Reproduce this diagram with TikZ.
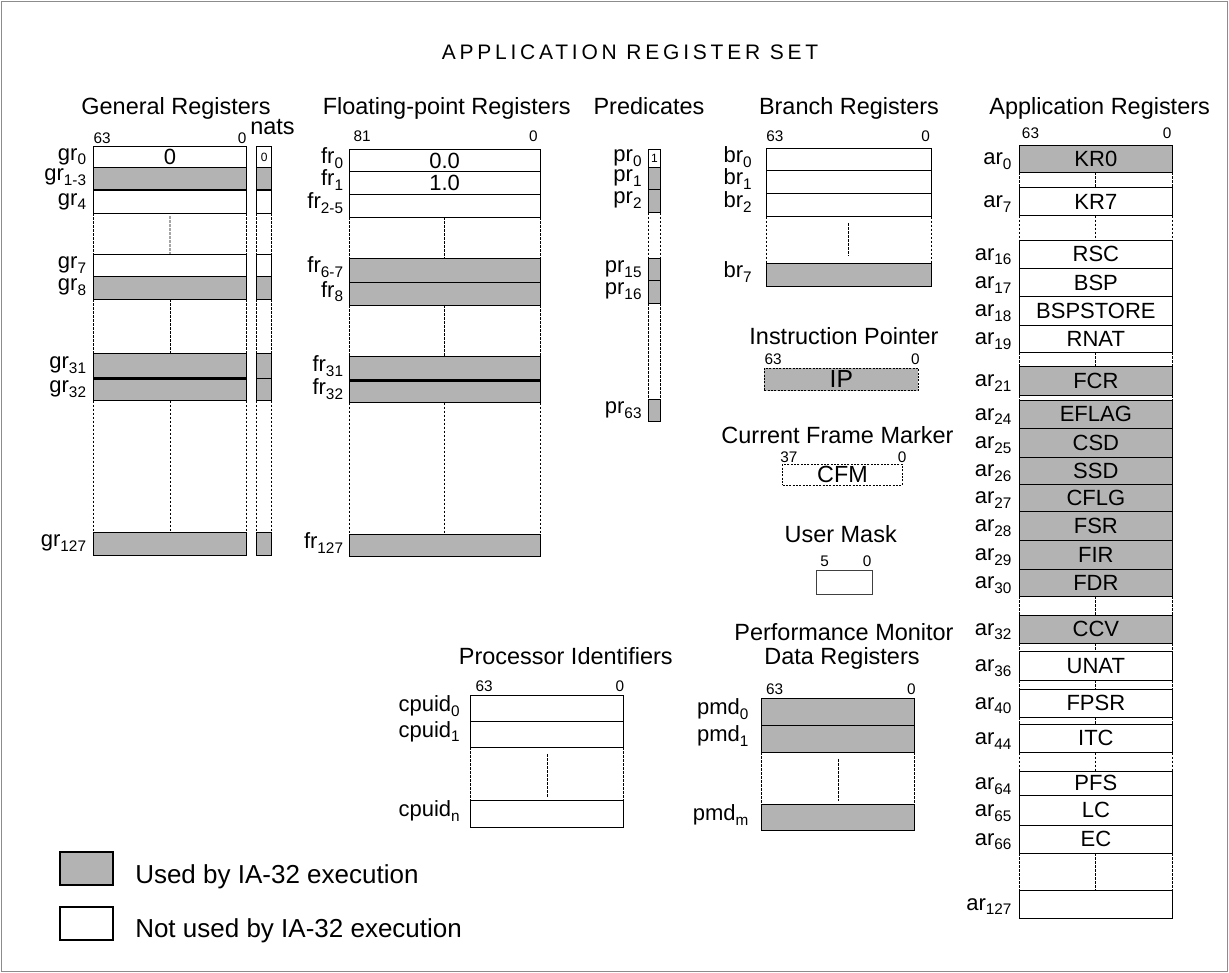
\documentclass[tikz,border=0pt]{standalone}
\usepackage{fontspec}
\setmainfont{Liberation Sans}
\newfontfamily\ttlfont[LetterSpace=18]{Liberation Sans}
\usetikzlibrary{calc}
\definecolor{regfill}{RGB}{179,179,179}
\definecolor{frameclr}{RGB}{140,140,140}
\newcommand\fsz[1]{\fontsize{#1pt}{#1pt}\selectfont}
\newcommand\sbx[1]{\raisebox{-3.6pt}{\fsz{11.5}#1}}
\newcommand\regnode[7]{\node[rg,#6,anchor=north west,minimum width={(#4-#2)*0.75pt},minimum height={(#5-#3)*0.75pt}] (#1) at (#2,#3) {#7};}
\newcommand\reglab[4]{\node[lbl,anchor=base east] (L#1) at ($(#1.west)+(#2,#3)$) {#4};}
\newcommand\gaps[2]{\draw[dsh] (#1.south west) -- (#2.north west); \draw[dsh] (#1.south east) -- (#2.north east);}
\newcommand\gapmid[4]{\draw[dsh] ($(#1.south)!#3!(#2.north)$) -- ($(#1.south)!#4!(#2.north)$);}
\tikzset{
 rg/.style={draw=black,line width=0.6pt,inner sep=0pt,outer sep=0pt,fill=white},
 used/.style={fill=regfill},
 dashbox/.style={dash pattern=on 1.5pt off 1pt,line width=0.55pt},
 dsh/.style={line width=0.55pt,dash pattern=on 2pt off 1pt},
 sepline/.style={line width=2pt},
 lbl/.style={inner sep=0pt,font=\fsz{16.5}},
 ttl/.style={inner sep=0pt,font=\fsz{17.6},anchor=base},
 bitn/.style={inner sep=0pt,font=\fsz{11.5}},
 cont/.style={font=\fsz{16.5}},
 arct/.style={font=\fsz{16.5}},
 smallc/.style={font=\fsz{9}},
 outerframe/.style={draw=frameclr,line width=0.75pt},
 legtxt/.style={inner sep=0pt,font=\fsz{19.5},anchor=base west},
 legbox/.style={rg,line width=1.4pt},
}
\begin{document}
\begin{tikzpicture}[x=0.75pt,y=-0.75pt]
\useasboundingbox (0,0) rectangle (1229,973);
\draw[outerframe] (1.5,1.5) rectangle (1227.5,971.5);
\node[anchor=base west,inner sep=0pt,font=\ttlfont\fsz{15.75}] (maintitle) at (441.5,60) {APPLICATION REGISTER SET};

% ---------------- General registers
\node[ttl] (grt) at (176,114.5) {General Registers};
\node[ttl,anchor=base west] (natst) at (250,135) {nats};
\regnode{gr0}{93.3}{146.7}{246.7}{167.7}{cont}{0}
\regnode{gr1}{93.3}{167.7}{246.7}{190}{used}{}
\regnode{gr4}{93.3}{190}{246.7}{213.3}{}{}
\regnode{gr7}{93.3}{254.3}{246.7}{276.7}{}{}
\regnode{gr8}{93.3}{276.7}{246.7}{299.3}{used}{}
\regnode{gr31}{93.3}{353.3}{246.7}{378.7}{used}{}
\regnode{gr32}{93.3}{378.7}{246.7}{400.7}{used}{}
\regnode{gr127}{93.3}{532}{246.7}{555.3}{used}{}
\regnode{n0}{256.7}{146.7}{271.7}{167.7}{smallc}{0}
\regnode{n1}{256.7}{167.7}{271.7}{190}{used}{}
\regnode{n4}{256.7}{190}{271.7}{213.3}{}{}
\regnode{n7}{256.7}{254.3}{271.7}{276.7}{}{}
\regnode{n8}{256.7}{276.7}{271.7}{299.3}{used}{}
\regnode{n31}{256.7}{353.3}{271.7}{378.7}{used}{}
\regnode{n32}{256.7}{378.7}{271.7}{400.7}{used}{}
\regnode{n127}{256.7}{532}{271.7}{555.3}{used}{}
\draw[sepline] (gr1.south west) -- (gr1.south east);
\draw[sepline] (gr31.south west) -- (gr31.south east);
\draw[sepline] (n1.south west) -- (n1.south east);
\gaps{gr4}{gr7}\gaps{gr8}{gr31}\gaps{gr32}{gr127}
\gapmid{gr4}{gr7}{0.07}{1}\gapmid{gr8}{gr31}{0}{1}\gapmid{gr32}{gr127}{0}{1}
\gaps{n4}{n7}\gaps{n8}{n31}\gaps{n32}{n127}
\node[bitn,anchor=base west] (grhi) at ($(gr0.north west)+(0,-3.4)$) {63};
\node[bitn,anchor=base east] (grlo) at ($(gr0.north east)+(0,-3.4)$) {0};
\reglab{gr0}{-7}{3}{gr\sbx{0}}
\reglab{gr1}{-7}{1.5}{gr\sbx{1-3}}
\reglab{gr4}{-7}{3.5}{gr\sbx{4}}
\reglab{gr7}{-7}{3}{gr\sbx{7}}
\reglab{gr8}{-7}{3}{gr\sbx{8}}
\reglab{gr31}{-7}{3}{gr\sbx{31}}
\reglab{gr32}{-7}{3}{gr\sbx{32}}
\reglab{gr127}{-7}{3}{gr\sbx{127}}

% ---------------- Floating-point registers
\node[ttl] (frt) at (446.7,114.5) {Floating-point Registers};
\regnode{fr0}{349.3}{149.3}{540}{171.7}{cont}{0.0}
\regnode{fr1}{349.3}{171.7}{540}{194}{cont}{1.0}
\regnode{fr2}{349.3}{194}{540}{217.3}{}{}
\regnode{fr6}{349.3}{258.3}{540}{282.3}{used}{}
\regnode{fr8}{349.3}{282.3}{540}{305}{used}{}
\regnode{fr31}{349.3}{356.7}{540}{380.3}{used}{}
\regnode{fr32}{349.3}{380.3}{540}{402.7}{used}{}
\regnode{fr127}{349.3}{534}{540}{556.7}{used}{}
\draw[sepline] (fr31.south west) -- (fr31.south east);
\gaps{fr2}{fr6}\gaps{fr8}{fr31}\gaps{fr32}{fr127}
\gapmid{fr2}{fr6}{0}{1}\gapmid{fr8}{fr31}{0}{1}\gapmid{fr32}{fr127}{0}{1}
\node[bitn,anchor=base west] (frhi) at ($(fr0.north west)+(4,-7.6)$) {81};
\node[bitn,anchor=base east] (frlo) at ($(fr0.north east)+(-2,-7.6)$) {0};
\reglab{fr0}{-6}{3}{fr\sbx{0}}
\reglab{fr1}{-6}{3}{fr\sbx{1}}
\reglab{fr2}{-6}{3}{fr\sbx{2-5}}
\reglab{fr6}{-6}{2}{fr\sbx{6-7}}
\reglab{fr8}{-6}{3.5}{fr\sbx{8}}
\reglab{fr31}{-6}{3}{fr\sbx{31}}
\reglab{fr32}{-6}{3}{fr\sbx{32}}
\reglab{fr127}{-6}{3}{fr\sbx{127}}

% ---------------- Predicates
\node[ttl] (prt) at (649,114.5) {Predicates};
\regnode{p0}{648.3}{149}{660.7}{167.7}{smallc}{1}
\regnode{p1}{648.3}{167.7}{660.7}{189.3}{used}{}
\regnode{p2}{648.3}{189.3}{660.7}{212.7}{used}{}
\regnode{p15}{648.3}{258.3}{660.7}{280.7}{used}{}
\regnode{p16}{648.3}{280.7}{660.7}{303.3}{used}{}
\regnode{p63}{648.3}{399}{660.7}{421.7}{used}{}
\gaps{p2}{p15}\gaps{p16}{p63}
\reglab{p0}{-6.5}{3}{pr\sbx{0}}
\reglab{p1}{-6.5}{3}{pr\sbx{1}}
\reglab{p2}{-6.5}{3}{pr\sbx{2}}
\reglab{p15}{-6.5}{3}{pr\sbx{15}}
\reglab{p16}{-6.5}{3}{pr\sbx{16}}
\reglab{p63}{-6.5}{3}{pr\sbx{63}}

% ---------------- Branch registers
\node[ttl] (brt) at (849,114.5) {Branch Registers};
\regnode{br0}{766}{148.3}{931.7}{170.7}{}{}
\regnode{br1}{766}{170.7}{931.7}{193.3}{}{}
\regnode{br2}{766}{193.3}{931.7}{216.7}{}{}
\regnode{br7}{766}{263.3}{931.7}{286.7}{used}{}
\gaps{br2}{br7}
\gapmid{br2}{br7}{0.14}{0.84}
\node[bitn,anchor=base west] (brhi) at ($(br0.north west)+(0,-6.6)$) {63};
\node[bitn,anchor=base east] (brlo) at ($(br0.north east)+(-1.5,-6.6)$) {0};
\reglab{br0}{-14}{3}{br\sbx{0}}
\reglab{br1}{-14}{3}{br\sbx{1}}
\reglab{br2}{-14}{3}{br\sbx{2}}
\reglab{br7}{-14}{3}{br\sbx{7}}

% ---------------- Instruction pointer, CFM, user mask
\node[ttl] (ipt) at (844,345) {Instruction Pointer};
\regnode{ip}{764.3}{368.3}{918.3}{390.7}{used,dashbox,font=\fsz{18.5}}{IP}
\node[bitn,anchor=base west] (iphi) at ($(ip.north west)+(0,-4)$) {63};
\node[bitn,anchor=base east] (iplo) at ($(ip.north east)+(1.7,-4)$) {0};
\node[ttl] (cfmt) at (837.5,443.3) {Current Frame Marker};
\regnode{cfm}{782.7}{464.3}{902.3}{485}{dashbox,font=\fsz{17.5}}{CFM}
\node[bitn,anchor=base west] (cfmhi) at ($(cfm.north west)+(-2.7,-1.6)$) {37};
\node[bitn,anchor=base east] (cfmlo) at ($(cfm.north east)+(4.4,-1.6)$) {0};
\node[ttl] (umt) at (840.7,542.7) {User Mask};
\regnode{um}{816.7}{570.7}{872.3}{594}{draw=black!75}{}
\node[bitn,anchor=base west] (umhi) at ($(um.north west)+(3.3,-4.7)$) {5};
\node[bitn,anchor=base east] (umlo) at ($(um.north east)+(-0.6,-4.7)$) {0};

% ---------------- Application registers
\node[ttl] (art) at (1099.7,114.5) {Application Registers};
\regnode{ar0}{1019}{145}{1172.7}{172.3}{used,arct}{KR0}
\regnode{ar7}{1019}{187.3}{1172.7}{215.7}{arct}{KR7}
\regnode{ar16}{1019}{240}{1172.7}{268.3}{arct}{RSC}
\regnode{ar17}{1019}{268.3}{1172.7}{296.7}{arct}{BSP}
\regnode{ar18}{1019}{296.7}{1172.7}{325}{arct}{BSPSTORE}
\regnode{ar19}{1019}{325}{1172.7}{352.3}{arct}{RNAT}
\regnode{ar21}{1019}{366.7}{1172.7}{395}{used,arct}{FCR}
\regnode{ar24}{1019}{400}{1172.7}{428.3}{used,arct}{EFLAG}
\regnode{ar25}{1019}{428.3}{1172.7}{457.3}{used,arct}{CSD}
\regnode{ar26}{1019}{457.3}{1172.7}{484.3}{used,arct}{SSD}
\regnode{ar27}{1019}{484.3}{1172.7}{511.7}{used,arct}{CFLG}
\regnode{ar28}{1019}{511.7}{1172.7}{540}{used,arct}{FSR}
\regnode{ar29}{1019}{540}{1172.7}{569}{used,arct}{FIR}
\regnode{ar30}{1019}{569}{1172.7}{596}{used,arct}{FDR}
\regnode{ar32}{1019}{615}{1172.7}{643.3}{used,arct}{CCV}
\regnode{ar36}{1019}{651.7}{1172.7}{680}{arct}{UNAT}
\regnode{ar40}{1019}{689}{1172.7}{717.3}{arct}{FPSR}
\regnode{ar44}{1019}{724}{1172.7}{752.7}{arct}{ITC}
\regnode{ar64}{1019}{771}{1172.7}{795.7}{arct}{PFS}
\regnode{ar65}{1019}{795.7}{1172.7}{825}{arct}{LC}
\regnode{ar66}{1019}{825}{1172.7}{853.3}{arct}{EC}
\regnode{ar127}{1019}{890}{1172.7}{918.3}{}{}
\gaps{ar0}{ar7}\gaps{ar7}{ar16}\gaps{ar19}{ar21}\gaps{ar21}{ar24}\gaps{ar30}{ar32}
\gaps{ar32}{ar36}\gaps{ar36}{ar40}\gaps{ar40}{ar44}\gaps{ar44}{ar64}\gaps{ar66}{ar127}
\gapmid{ar0}{ar7}{0}{1}\gapmid{ar7}{ar16}{0}{1}\gapmid{ar19}{ar21}{0}{1}\gapmid{ar30}{ar32}{0}{1}
\gapmid{ar32}{ar36}{0}{1}\gapmid{ar36}{ar40}{0}{1}\gapmid{ar40}{ar44}{0}{1}\gapmid{ar44}{ar64}{0}{1}\gapmid{ar66}{ar127}{0}{1}
\node[bitn,anchor=base west] (arhi) at ($(ar0.north west)+(2.7,-6.7)$) {63};
\node[bitn,anchor=base east] (arlo) at ($(ar0.north east)+(-1,-6.7)$) {0};
\foreach \r in {0,7,16,17,18,19,21,24,25,26,27,28,29,30,32,36,40,44,64,65,66,127}{
  \reglab{ar\r}{-7.3}{6}{ar\sbx{\r}}
}

% ---------------- Processor identifiers
\node[ttl] (pit) at (565.8,664) {Processor Identifiers};
\regnode{cp0}{470.8}{695.8}{623.8}{721.2}{}{}
\regnode{cp1}{470.8}{721.2}{623.8}{746.9}{}{}
\regnode{cpn}{470.8}{800.8}{623.8}{826.9}{}{}
\gaps{cp1}{cpn}
\gapmid{cp1}{cpn}{0.14}{0.93}
\node[bitn,anchor=base west] (cphi) at ($(cp0.north west)+(4.6,-4.8)$) {63};
\node[bitn,anchor=base east] (cplo) at ($(cp0.north east)+(0.7,-4.8)$) {0};
\reglab{cp0}{-10.8}{3}{cpuid\sbx{0}}
\reglab{cp1}{-10.8}{3}{cpuid\sbx{1}}
\reglab{cpn}{-10.8}{3}{cpuid\sbx{n}}

% ---------------- Performance monitor data registers
\node[ttl] (pmt1) at (844,640) {Performance Monitor};
\node[ttl] (pmt2) at (842,664) {Data Registers};
\regnode{pm0}{761.2}{698.8}{914.6}{725}{used}{}
\regnode{pm1}{761.2}{725}{914.6}{752}{used}{}
\regnode{pmm}{761.2}{804.6}{914.6}{830.8}{used}{}
\gaps{pm1}{pmm}
\gapmid{pm1}{pmm}{0.13}{0.94}
\node[bitn,anchor=base west] (pmhi) at ($(pm0.north west)+(4.6,-4.8)$) {63};
\node[bitn,anchor=base east] (pmlo) at ($(pm0.north east)+(1.2,-4.8)$) {0};
\reglab{pm0}{-12.5}{3}{pmd\sbx{0}}
\reglab{pm1}{-12.5}{3}{pmd\sbx{1}}
\reglab{pmm}{-12.5}{3}{pmd\sbx{m}}

% ---------------- Legend
\regnode{lgu}{60}{851.7}{113.3}{885}{legbox,used}{}
\regnode{lgn}{60}{906.7}{113.3}{940}{legbox}{}
\node[legtxt] (lgut) at (135,883) {Used by IA-32 execution};
\node[legtxt] (lgnt) at (135,937.3) {Not used by IA-32 execution};
\end{tikzpicture}
\end{document}
